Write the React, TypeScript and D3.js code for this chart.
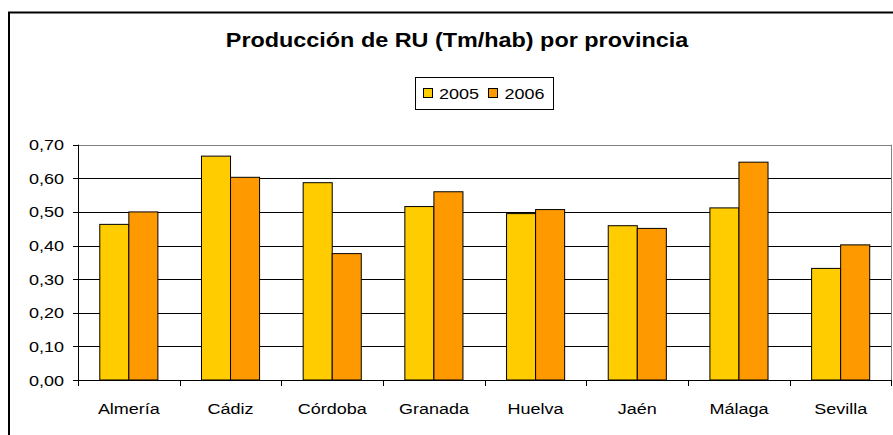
import React from "react";
import * as d3 from "d3";

// datos
const provincias = ["Almería", "Cádiz", "Córdoba", "Granada", "Huelva", "Jaén", "Málaga", "Sevilla"];
const series = ["2005", "2006"];
const valores2005 = [0.463, 0.666, 0.587, 0.516, 0.495, 0.459, 0.512, 0.332];
const valores2006 = [0.5, 0.603, 0.376, 0.56, 0.507, 0.451, 0.648, 0.402];
const yTicks = [0, 0.1, 0.2, 0.3, 0.4, 0.5, 0.6, 0.7];
const colores = ["#FFCC00", "#FF9900"];

const W = 893;
const H = 435;
const font = "'Liberation Sans', Arial, sans-serif";
const stretch = 1.2; // the original picture is a bit wider than tall

const es = d3.formatLocale({ decimal: ",", thousands: ".", grouping: [3], currency: ["", "€"] });
const fmt = es.format(".2f");

function Txt(props: { x: number; y: number; size: number; anchor?: string; bold?: boolean; children: any }) {
  return (
    <text
      transform={`translate(${props.x},${props.y}) scale(${stretch},1)`}
      textAnchor={props.anchor || "start"}
      fontFamily={font}
      fontSize={props.size}
      fontWeight={props.bold ? "bold" : "normal"}
      fill="#000"
    >
      {props.children}
    </text>
  );
}

export default function App() {
  const left = 78, right = 891.5, top = 144.7, bottom = 380;
  const x = d3.scaleBand().domain(provincias).range([left, right]).paddingInner(0).paddingOuter(0);
  const xs = d3.scaleBand().domain(series).range([0, x.bandwidth()]).paddingInner(0).paddingOuter(0.75);
  const y = d3.scaleLinear().domain([0, 0.7]).range([bottom, top]);
  const data = [valores2005, valores2006];

  return (
    <svg width={W} height={H} style={{ position: "absolute", left: 0, top: 0, background: "#fff" }}>
      <rect x={0} y={0} width={W} height={H} fill="#fff" />
      {/* borde del grafico (recortado a la derecha y abajo) */}
      <rect x={9} y={12.5} width={950} height={500} fill="none" stroke="#000" strokeWidth={2} />

      <Txt x={457} y={47} size={19.5} anchor="middle" bold>
        Producción de RU (Tm/hab) por provincia
      </Txt>

      {/* leyenda */}
      <rect x={415.5} y={77.5} width={138} height={32} fill="#fff" stroke="#000" strokeWidth={1} />
      {series.map((s, i) => (
        <g key={s}>
          <rect x={423.5 + i * 65} y={88.5} width={9} height={9} fill={colores[i]} stroke="#000" strokeWidth={1} />
          <Txt x={439 + i * 65.5} y={99} size={15}>
            {s}
          </Txt>
        </g>
      ))}

      {/* rejilla */}
      {yTicks.map((t) => (
        <line
          key={t}
          x1={left}
          x2={right}
          y1={Math.round(y(t)) + 0.5}
          y2={Math.round(y(t)) + 0.5}
          stroke={t === 0.7 ? "#808080" : "#000"}
          strokeWidth={1}
        />
      ))}
      <line x1={right} x2={right} y1={top} y2={bottom} stroke="#808080" strokeWidth={1} />

      {/* barras */}
      {provincias.map((p, i) => (
        <g key={p}>
          {series.map((s, j) => (
            <rect
              key={s}
              x={(x(p) as number) + (xs(s) as number)}
              y={y(data[j][i])}
              width={xs.bandwidth()}
              height={bottom - y(data[j][i])}
              fill={colores[j]}
              stroke="#000"
              strokeWidth={1}
            />
          ))}
        </g>
      ))}

      {/* eje y */}
      <line x1={left + 0.5} x2={left + 0.5} y1={top} y2={bottom} stroke="#000" />
      {yTicks.map((t) => (
        <g key={"yt" + t}>
          <line x1={left - 5} x2={left} y1={Math.round(y(t)) + 0.5} y2={Math.round(y(t)) + 0.5} stroke="#000" />
          <Txt x={64} y={y(t) + 5.5} size={15} anchor="end">
            {fmt(t)}
          </Txt>
        </g>
      ))}

      {/* eje x */}
      <line x1={left} x2={right} y1={bottom + 0.5} y2={bottom + 0.5} stroke="#000" />
      {provincias.map((p) => (
        <line
          key={"xt" + p}
          x1={Math.round(x(p) as number) + 0.5}
          x2={Math.round(x(p) as number) + 0.5}
          y1={bottom}
          y2={bottom + 6}
          stroke="#000"
        />
      ))}
      <line x1={right} x2={right} y1={bottom} y2={bottom + 6} stroke="#000" />
      {provincias.map((p) => (
        <Txt key={"xl" + p} x={(x(p) as number) + x.bandwidth() / 2} y={414} size={15} anchor="middle">
          {p}
        </Txt>
      ))}
    </svg>
  );
}
